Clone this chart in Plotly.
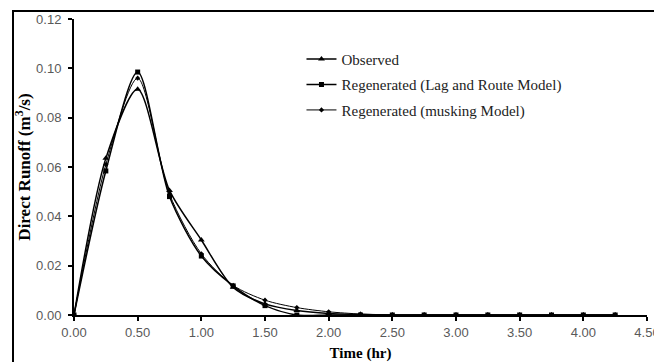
import plotly.graph_objects as go

time_hr = [0, 0.25, 0.5, 0.75, 1.0, 1.25, 1.5, 1.75, 2.0, 2.25, 2.5, 2.75, 3.0, 3.25, 3.5, 3.75, 4.0, 4.25]
observed = [0, 0.0635, 0.0915, 0.0505, 0.0304, 0.0112, 0.0045, 0.0018, 0.0006, 0.0002, 0, 0, 0, 0, 0, 0, 0, 0]
lag_route = [0, 0.0584, 0.0985, 0.0480, 0.0239, 0.0118, 0.0038, 0.0, 0, 0, 0, 0, 0, 0, 0, 0, 0, 0]
musking = [0, 0.0610, 0.0960, 0.0490, 0.0248, 0.0120, 0.0060, 0.0030, 0.0013, 0.0004, 0, 0, 0, 0, 0, 0, 0, 0]

x_ticks = [0, 0.5, 1.0, 1.5, 2.0, 2.5, 3.0, 3.5, 4.0, 4.5]
y_ticks = [0, 0.02, 0.04, 0.06, 0.08, 0.10, 0.12]

serif = "Liberation Serif"
sans = "Liberation Sans"

fig = go.Figure()
series = [
    ("Observed", observed, "triangle-up", 6, 1.5),
    ("Regenerated (Lag and Route Model)", lag_route, "square", 5, 1.5),
    ("Regenerated (musking Model)", musking, "diamond", 4, 1.0),
]
for i, (name, vals, sym, size, w) in enumerate(series):
    fig.add_trace(go.Scatter(
        x=time_hr, y=vals, name=name, mode="lines+markers",
        line=dict(color="black", width=w, shape="spline", smoothing=0.8),
        marker=dict(symbol=sym, size=size, color="black"),
        legendgroup=f"g{i}",
    ))

fig.update_layout(
    width=654, height=354,
    margin=dict(l=66, r=15, t=11, b=47),
    paper_bgcolor="white", plot_bgcolor="white",
    showlegend=True,
    legend=dict(x=0.397, y=0.92, xanchor="left", yanchor="top",
                font=dict(family=serif, size=15, color="#222"),
                bgcolor="rgba(0,0,0,0)", tracegroupgap=3, itemwidth=30),
    xaxis=dict(range=[0, 4.5], tickvals=x_ticks, tickformat=".2f", automargin=False,
               showgrid=False, zeroline=False, showline=True, linecolor="black", linewidth=2,
               ticks="outside", ticklen=4, tickcolor="black", tickwidth=1.5,
               tickfont=dict(family=sans, size=13, color="#595959"),
               title=dict(text="<b>Time (hr)</b>", font=dict(family=serif, size=15, color="black"), standoff=19)),
    yaxis=dict(range=[0, 0.12], tickvals=y_ticks, tickformat=".2f", automargin=False,
               showgrid=False, zeroline=False, showline=True, linecolor="black", linewidth=2,
               ticks="outside", ticklen=4, tickcolor="black", tickwidth=1.5,
               ticklabelstandoff=4,
               tickfont=dict(family=sans, size=13, color="#595959"),
               title=dict(text="<b>Direct Runoff (m<sup>3</sup>/s)</b>", font=dict(family=serif, size=17, color="black"), standoff=1)),
    shapes=[dict(type="rect", xref="paper", yref="paper",
                 x0=(13 - 74) / 573, x1=(658 - 74) / 573,
                 y0=(315 - 380) / 296, y1=(315 - 11) / 296,
                 line=dict(color="black", width=2), fillcolor="rgba(0,0,0,0)", layer="below")],
)

fig.write_html("out.html")
